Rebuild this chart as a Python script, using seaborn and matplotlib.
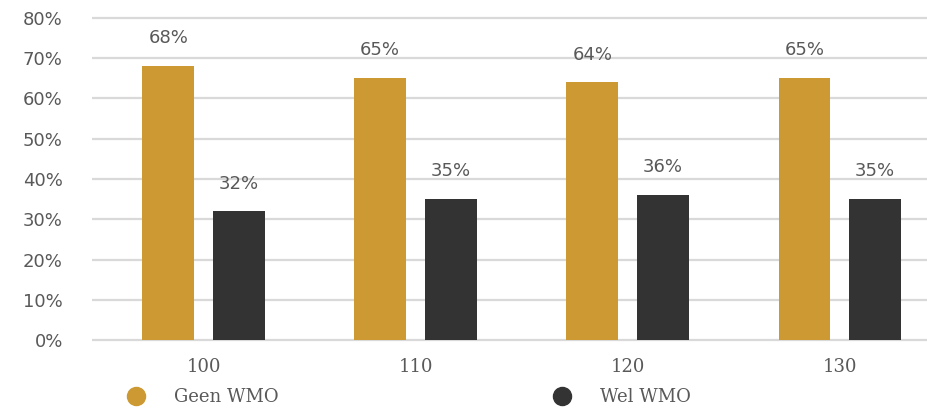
import matplotlib
matplotlib.use("Agg")
import matplotlib.pyplot as plt
from matplotlib.lines import Line2D
import seaborn as sns
import pandas as pd

# Data
categories = ["100", "110", "120", "130"]
series_names = ["Geen WMO", "Wel WMO"]
geen_wmo = [68, 65, 64, 65]
wel_wmo = [32, 35, 36, 35]
y_ticks = [0, 10, 20, 30, 40, 50, 60, 70, 80]

colors = {"Geen WMO": "#CC9933", "Wel WMO": "#333333"}
text_color = "#595959"
grid_color = "#D9D9D9"

df = pd.DataFrame({
    "category": categories * 2,
    "series": [series_names[0]] * len(categories) + [series_names[1]] * len(categories),
    "value": geen_wmo + wel_wmo,
})

sns.set_theme(style="white")
plt.rcParams["font.family"] = ["DejaVu Sans"]

W, H = 928, 409
fig = plt.figure(figsize=(W / 100, H / 100), dpi=100)

# axes placement in pixels
ax_left, ax_right = 92, 928
ax_top, ax_bottom = 13.7, 344.5
ax = fig.add_axes([ax_left / W, 1 - ax_bottom / H,
                   (ax_right - ax_left) / W, (ax_bottom - ax_top) / H])

sns.barplot(data=df, x="category", y="value", hue="series",
            hue_order=series_names, palette=colors, order=categories,
            width=0.666, gap=0.27, legend=False, ax=ax, saturation=1,
            linewidth=0, edgecolor="none")

ax.set_xlim(-0.526, 3.417)
ax.set_ylim(-1, 81)
ax.set_yticks(y_ticks)
ax.set_yticklabels([f"{t}%" for t in y_ticks])
ax.set_xlabel("")
ax.set_ylabel("")

ax.grid(axis="y", color=grid_color, linewidth=1.6)
ax.grid(axis="x", visible=False)
ax.set_axisbelow(True)
for s in ax.spines.values():
    s.set_visible(False)

ax.tick_params(axis="y", length=0, pad=21, labelsize=13, labelcolor=text_color)
ax.tick_params(axis="x", length=0, pad=10, labelsize=13, labelcolor=text_color)
for lbl in ax.get_xticklabels():
    lbl.set_fontfamily("DejaVu Serif")

# value labels above each bar
for container, vals in zip(ax.containers, [geen_wmo, wel_wmo]):
    for bar, v in zip(container, vals):
        ax.annotate(f"{v}%", (bar.get_x() + bar.get_width() / 2, v),
                    xytext=(0, 20), textcoords="offset points",
                    ha="center", va="center", fontsize=13, color=text_color)

# legend below the chart
handles = [Line2D([], [], linestyle="none", marker="o", markersize=13,
                  markerfacecolor=colors[n], markeredgecolor=colors[n])
           for n in series_names]
fig.legend(handles, series_names, ncol=2, loc="center left",
           bbox_to_anchor=(126.7 / W, 1 - 397 / H), frameon=False,
           borderpad=0, borderaxespad=0, handlelength=1.0,
           handletextpad=1.62, columnspacing=15.2,
           prop={"family": "DejaVu Serif", "size": 13}, labelcolor=text_color)

fig.savefig("out.png", dpi=100)
